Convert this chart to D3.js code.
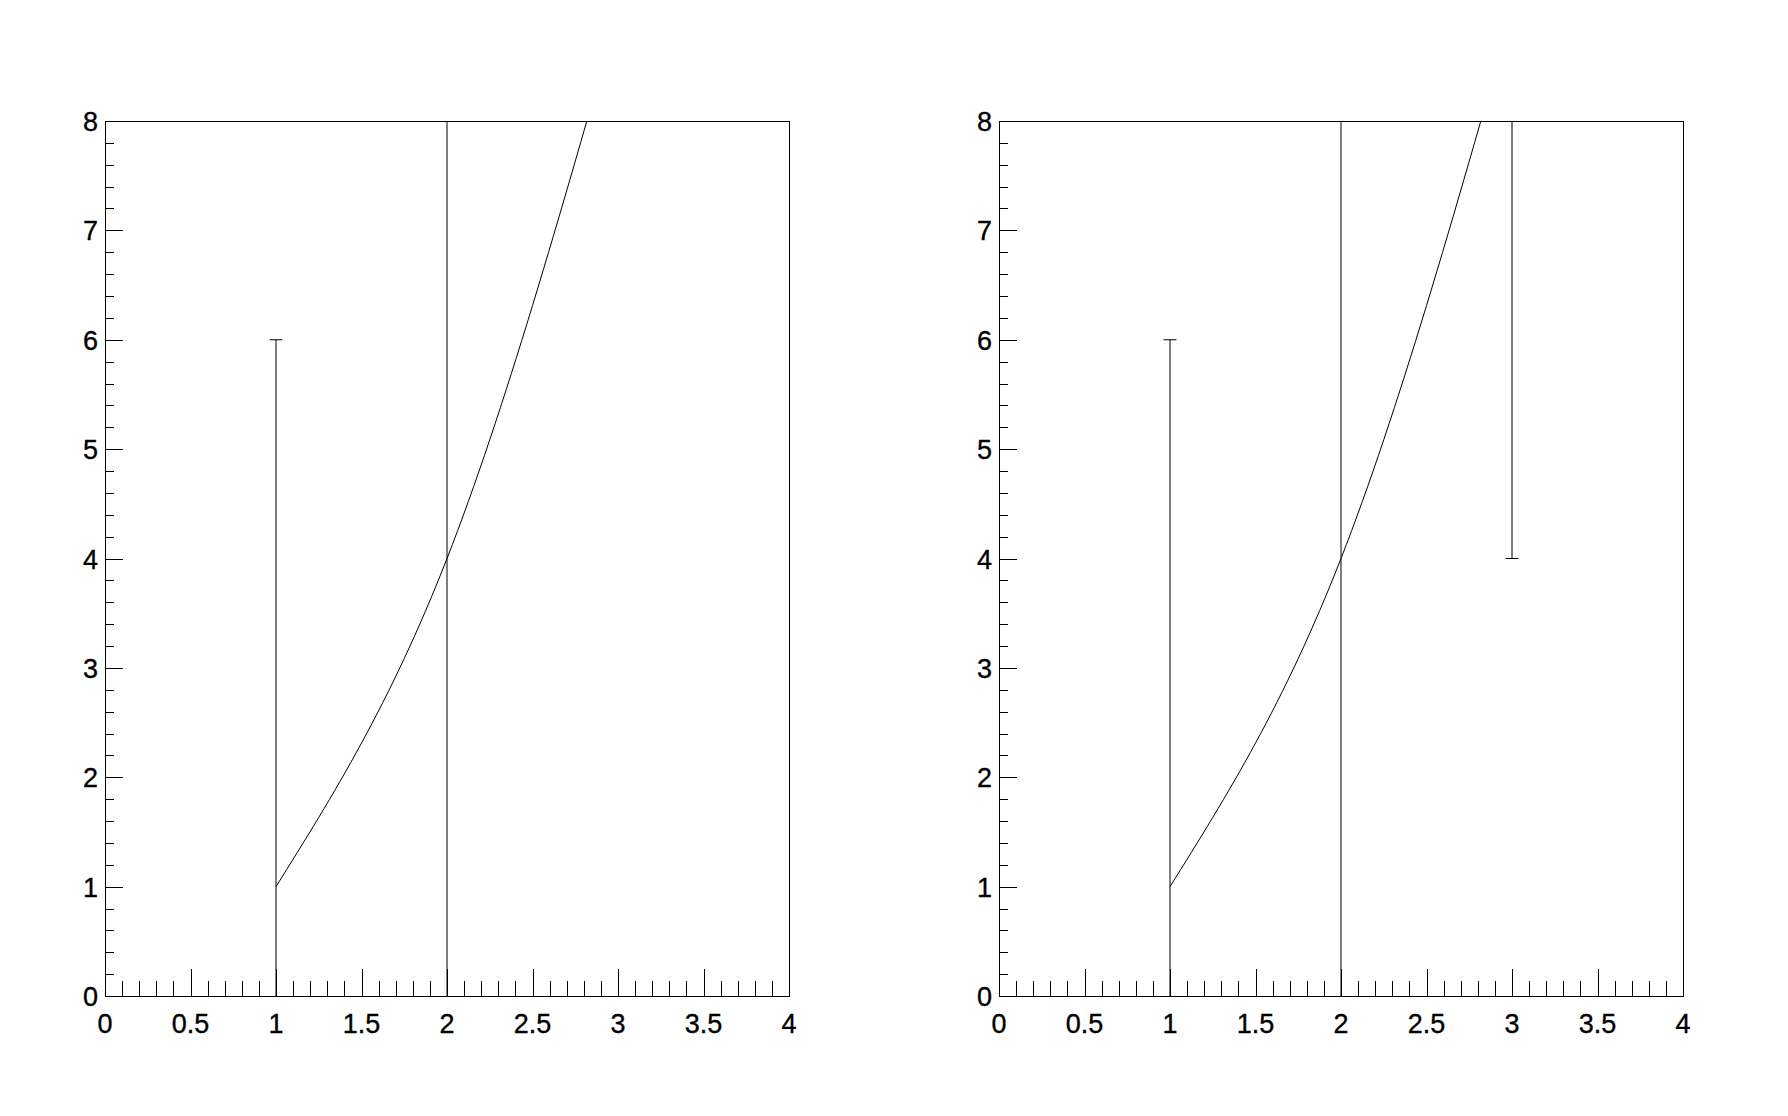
<!DOCTYPE html>
<html>
<head>
<meta charset="utf-8">
<script src="https://cdn.jsdelivr.net/npm/d3@7"></script>
<style>
  body { margin: 0; background: #fff; }
  text { font-family: "Liberation Sans", Arial, sans-serif; font-size: 27px; fill: #000; stroke: #000; stroke-width: 0.35px; }
</style>
</head>
<body>
<div id="graph"></div>
<script>
// points of the graph (same x, y in both pads)
var xs = [1, 2, 3],
    ys = [1, 4, 9];

// asymmetric y errors, left pad and right pad
var errLowLeft  = [1, 4, 0.5],
    errHighLeft = [5, 6, 1],
    errLowRight  = [1, 4, 5],
    errHighRight = [5, 6, 1];

var xTickLabels = ["0", "0.5", "1", "1.5", "2", "2.5", "3", "3.5", "4"],
    yTickLabels = ["0", "1", "2", "3", "4", "5", "6", "7", "8"];

var W = 1788, H = 1116,
    padW = 894,
    margin = {top: 121, right: 105, bottom: 120, left: 105},
    width = padW - margin.left - margin.right,
    height = H - margin.top - margin.bottom;

var svg = d3.select("#graph").append("svg")
    .attr("width", W)
    .attr("height", H);

function drawPad(i, errLow, errHigh) {
  var g = svg.append("g")
      .attr("transform", "translate(" + (i * padW + margin.left) + "," + margin.top + ")");

  var x = d3.scaleLinear().domain([0, 4]).range([0, width]),
      y = d3.scaleLinear().domain([0, 8]).range([height, 0]);

  var clipId = "clip" + i;
  g.append("clipPath").attr("id", clipId)
    .append("rect").attr("width", width).attr("height", height);

  var plot = g.append("g").attr("clip-path", "url(#" + clipId + ")");

  var data = xs.map(function(d, k) {
    return {x: d, y: ys[k], lo: ys[k] - errLow[k], hi: ys[k] + errHigh[k]};
  });

  // error bars
  plot.selectAll(".err").data(data).enter().append("line")
      .attr("x1", function(d) { return x(d.x); })
      .attr("x2", function(d) { return x(d.x); })
      .attr("y1", function(d) { return y(d.lo); })
      .attr("y2", function(d) { return y(d.hi); })
      .attr("stroke", "#000").attr("stroke-width", 1);

  // caps only where the end is inside the frame
  var caps = [];
  data.forEach(function(d) {
    if (d.lo > 0 && d.lo < 8) caps.push([d.x, d.lo]);
    if (d.hi > 0 && d.hi < 8) caps.push([d.x, d.hi]);
  });
  plot.selectAll(".cap").data(caps).enter().append("line")
      .attr("x1", function(d) { return x(d[0]) - 6.5; })
      .attr("x2", function(d) { return x(d[0]) + 6.5; })
      .attr("y1", function(d) { return y(d[1]); })
      .attr("y2", function(d) { return y(d[1]); })
      .attr("stroke", "#000").attr("stroke-width", 1);

  // smooth curve through the points
  plot.append("path")
      .datum(data)
      .attr("fill", "none")
      .attr("stroke", "#000")
      .attr("stroke-width", 1)
      .attr("d", d3.line()
          .x(function(d) { return x(d.x); })
          .y(function(d) { return y(d.y); })
          .curve(d3.curveNatural));

  // frame
  g.append("rect")
      .attr("x", 0.5).attr("y", 0.5)
      .attr("width", width).attr("height", height)
      .attr("fill", "none").attr("stroke", "#000").attr("stroke-width", 1);

  // x ticks, pointing up into the frame
  var xt = d3.range(0, 41).map(function(k) { return k / 10; });
  g.selectAll(".xt").data(xt).enter().append("line")
      .attr("x1", function(d) { return Math.round(x(d)) + 0.5; })
      .attr("x2", function(d) { return Math.round(x(d)) + 0.5; })
      .attr("y1", height)
      .attr("y2", function(d, k) { return height - (k % 5 === 0 ? 27 : 15); })
      .attr("stroke", "#000").attr("stroke-width", 1);

  g.selectAll(".xl").data(xTickLabels).enter().append("text")
      .attr("x", function(d) { return x(+d); })
      .attr("y", height + 37)
      .attr("text-anchor", "middle")
      .text(function(d) { return d; });

  // y ticks, pointing right into the frame
  var yt = d3.range(0, 41).map(function(k) { return k / 5; });
  g.selectAll(".yt").data(yt).enter().append("line")
      .attr("x1", 0)
      .attr("x2", function(d, k) { return k % 5 === 0 ? 18 : 9; })
      .attr("y1", function(d) { return Math.round(y(d)) + 0.5; })
      .attr("y2", function(d) { return Math.round(y(d)) + 0.5; })
      .attr("stroke", "#000").attr("stroke-width", 1);

  g.selectAll(".yl").data(yTickLabels).enter().append("text")
      .attr("x", -7)
      .attr("y", function(d) { return y(+d) + 10; })
      .attr("text-anchor", "end")
      .text(function(d) { return d; });
}

drawPad(0, errLowLeft, errHighLeft);
drawPad(1, errLowRight, errHighRight);
</script>
</body>
</html>
